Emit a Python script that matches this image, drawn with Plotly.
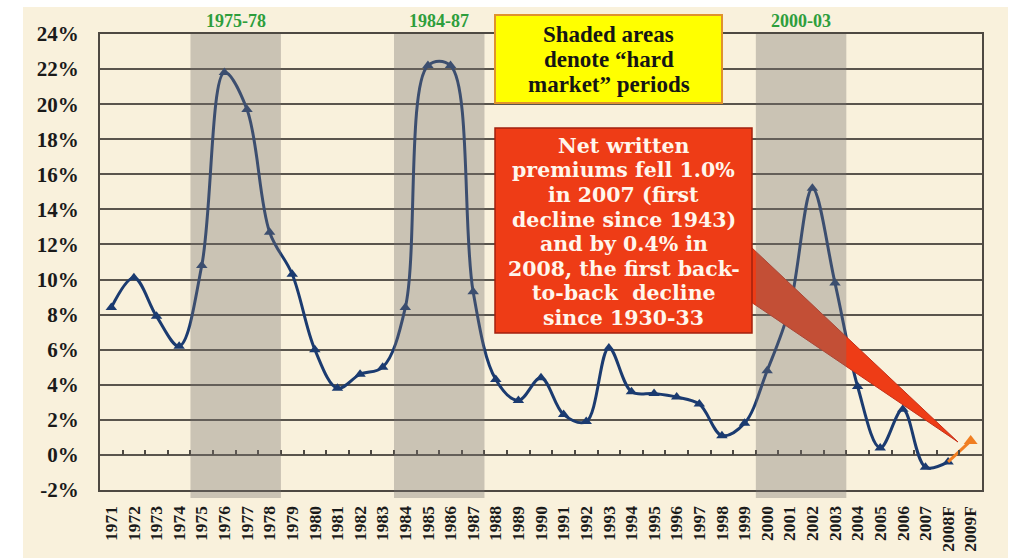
import plotly.graph_objects as go

# ---------------- data ----------------
years = ["1971", "1972", "1973", "1974", "1975", "1976", "1977", "1978", "1979", "1980",
         "1981", "1982", "1983", "1984", "1985", "1986", "1987", "1988", "1989", "1990",
         "1991", "1992", "1993", "1994", "1995", "1996", "1997", "1998", "1999", "2000",
         "2001", "2002", "2003", "2004", "2005", "2006", "2007", "2008F", "2009F"]

actual_years = years[:-1]
nwp_growth = [8.4, 10.1, 7.9, 6.2, 10.8, 21.8, 19.7, 12.7, 10.3, 6.0,
              3.8, 4.6, 5.0, 8.4, 22.2, 22.2, 9.3, 4.3, 3.1, 4.4,
              2.3, 1.9, 6.1, 3.6, 3.5, 3.3, 2.9, 1.1, 1.8, 4.8,
              8.4, 15.2, 9.8, 3.9, 0.4, 2.6, -0.7, -0.4]

forecast_years = ["2008F", "2009F"]
forecast_growth = [-0.4, 0.8]

hard_market_start = ["1975", "1984", "2000"]
hard_market_end = ["1978", "1987", "2003"]
hard_market_labels = ["1975-78", "1984-87", "2000-03"]

y_tick_vals = [-2, 0, 2, 4, 6, 8, 10, 12, 14, 16, 18, 20, 22, 24]
y_tick_text = ["-2%", "0%", "2%", "4%", "6%", "8%", "10%", "12%", "14%", "16%",
               "18%", "20%", "22%", "24%"]

yellow_lines = ["Shaded areas", "denote \u201chard", "market\u201d periods"]
red_lines = ["Net written", "premiums fell 1.0%", "in 2007 (first",
             "decline since 1943)", "and by 0.4% in", "2008, the first back-",
             "to-back  decline", "since 1930-33"]

# ---------------- layout helpers ----------------
W, H = 1026, 558
L, R, T, B = 100, 44, 34, 68
PW, PH = W - L - R, H - T - B
Y_MIN, Y_MAX = -2, 24


def px_x(p):
    return (p - L) / PW


def px_y(p):
    return (H - B - p) / PH


SERIF = "Liberation Serif"
NAVY = "#1B3B70"
ORANGE = "#F07E22"
GRID = "#5A554D"
CREAM = "#F9F1DC"
RED = "#EE3C16"

fig = go.Figure()

fig.add_trace(go.Scatter(
    x=actual_years, y=nwp_growth, mode="lines+markers",
    line=dict(color=NAVY, width=3, shape="spline", smoothing=1.0),
    marker=dict(symbol="triangle-up", size=10, color=NAVY),
    hoverinfo="x+y",
))
fig.add_trace(go.Scatter(
    x=forecast_years, y=forecast_growth, mode="lines",
    line=dict(color=ORANGE, width=3),
    hoverinfo="skip",
))
fig.add_trace(go.Scatter(
    x=forecast_years[1:], y=forecast_growth[1:], mode="markers",
    marker=dict(symbol="triangle-up", size=12, color=ORANGE),
    hoverinfo="x+y",
))
# invisible trace carrying the tick axis drawn on the 0% line
fig.add_trace(go.Scatter(
    x=actual_years, y=nwp_growth, mode="markers", xaxis="x2",
    marker=dict(opacity=0), hoverinfo="skip",
))

shapes = []
# parchment background
shapes.append(dict(type="rect", xref="paper", yref="paper", layer="below",
                   x0=px_x(23), x1=px_x(1008), y0=px_y(558), y1=px_y(7),
                   fillcolor=CREAM, line=dict(width=0)))
# callout wedge
wedge = "M {} {} L {} {} L {} {} Z".format(px_x(751), px_y(247), px_x(958), px_y(442),
                                           px_x(751), px_y(302))
shapes.append(dict(type="path", xref="paper", yref="paper", layer="above", path=wedge,
                   fillcolor=RED, line=dict(color="#C4301A", width=1)))
# red box
shapes.append(dict(type="rect", xref="paper", yref="paper", layer="above",
                   x0=px_x(495), x1=px_x(752), y0=px_y(333), y1=px_y(128),
                   fillcolor=RED, line=dict(color="#A3200E", width=1.5)))
# yellow box
shapes.append(dict(type="rect", xref="paper", yref="paper", layer="above",
                   x0=px_x(495), x1=px_x(722), y0=px_y(103), y1=px_y(15),
                   fillcolor="#FFFF00", line=dict(color="#E0922E", width=2)))
# hard-market shading (semi-transparent, on top)
for s, e in zip(hard_market_start, hard_market_end):
    i0, i1 = years.index(s), years.index(e)
    shapes.append(dict(type="rect", xref="x", yref="paper", layer="above",
                       x0=i0 - 0.5, x1=i1 + 0.5, y0=px_y(498), y1=1.0,
                       fillcolor="rgba(120,115,110,0.36)", line=dict(width=0)))

annotations = []
for s, e, lab in zip(hard_market_start, hard_market_end, hard_market_labels):
    i0, i1 = years.index(s), years.index(e)
    annotations.append(dict(x=(i0 + i1) / 2, y=px_y(21), xref="x", yref="paper",
                            text=lab, showarrow=False, xanchor="center", yanchor="middle",
                            font=dict(family=SERIF, size=18, color="#2E9E3C", weight="bold")))
for k, line in enumerate(yellow_lines):
    annotations.append(dict(x=px_x(608.5), y=px_y(34 + 25.5 * k), xref="paper", yref="paper",
                            text=line, showarrow=False, xanchor="center", yanchor="middle",
                            font=dict(family=SERIF, size=23, color="#151515", weight="bold")))
for k, line in enumerate(red_lines):
    annotations.append(dict(x=px_x(623.5), y=px_y(146 + 24.5 * k), xref="paper", yref="paper",
                            text=line, showarrow=False, xanchor="center", yanchor="middle",
                            font=dict(family="DejaVu Serif", size=20.5, color="#FFF6EC",
                                      weight="bold")))

fig.update_layout(
    width=W, height=H,
    margin=dict(l=L, r=R, t=T, b=B, pad=0, autoexpand=False),
    paper_bgcolor="white", plot_bgcolor="rgba(0,0,0,0)",
    showlegend=False,
    shapes=shapes, annotations=annotations,
    xaxis=dict(type="category", categoryorder="array", categoryarray=years,
               range=[-0.5, len(years) - 0.5], tickangle=-90, automargin=False,
               tickfont=dict(family=SERIF, size=17.5, color="#1A1A1A", weight="bold"),
               ticklabelstandoff=7,
               showgrid=False, zeroline=False, ticks="",
               showline=True, linecolor="#4E4942", linewidth=2, mirror=True),
    xaxis2=dict(type="category", categoryorder="array", categoryarray=years,
                range=[-0.5, len(years) - 0.5], overlaying="x", anchor="free",
                position=(0 - Y_MIN) / (Y_MAX - Y_MIN), side="bottom", automargin=False,
                ticks="inside", tickson="boundaries", ticklen=5, tickwidth=1.5,
                tickcolor="#4E4942", showticklabels=False, showgrid=False,
                showline=False, zeroline=False),
    yaxis=dict(range=[Y_MIN, Y_MAX], tickvals=y_tick_vals, ticktext=y_tick_text,
               automargin=False,
               tickfont=dict(family=SERIF, size=21, color="#1A1A1A", weight="bold"),
               ticklabelstandoff=15, ticks="",
               showgrid=True, gridcolor=GRID, gridwidth=2, zeroline=False,
               showline=True, linecolor="#4E4942", linewidth=2, mirror=True),
)

fig.write_html("out.html")
